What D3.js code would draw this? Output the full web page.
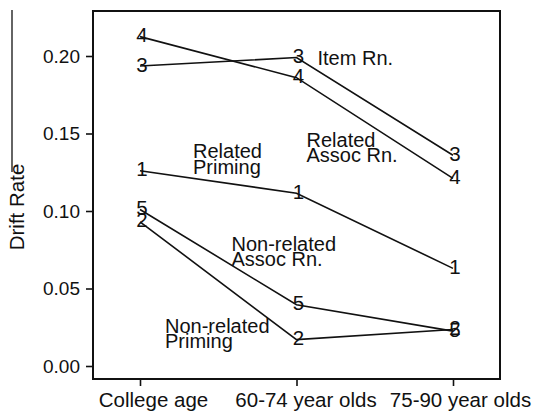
<!DOCTYPE html>
<html><head><meta charset="utf-8">
<script src="https://cdn.jsdelivr.net/npm/d3@7"></script>
<style>body{margin:0;background:#fff}svg{display:block}text{font-family:"Liberation Sans",Arial,sans-serif;fill:#111}</style>
</head><body><svg id="c" width="536" height="416"></svg>
<script>
const categories = ["College age", "60-74 year olds", "75-90 year olds"];
const seriesIds = ["1", "2", "3", "4", "5"];
const series1 = [0.126, 0.1115, 0.063];
const series2 = [0.093, 0.017, 0.0235];
const series3 = [0.1935, 0.1990, 0.136];
const series4 = [0.2125, 0.186, 0.121];
const series5 = [0.101, 0.0395, 0.0225];
const yTicks = [0, 0.05, 0.10, 0.15, 0.20];
const annotations = [
  {lines: ["Item Rn."], cat: 1, v: 0.194, dx: 21},
  {lines: ["Related", "Assoc Rn."], cat: 1, v: 0.1415, dx: 10},
  {lines: ["Related", "Priming"], cat: 0, v: 0.134, dx: 53},
  {lines: ["Non-related", "Assoc Rn."], cat: 1, v: 0.0745, dx: -65},
  {lines: ["Non-related", "Priming"], cat: 0, v: 0.0215, dx: 25}
];
const allSeries = [series1, series2, series3, series4, series5];

const svg = d3.select("#c");
const L = 93, R = 500, T = 11, B = 379;
const x = d3.scalePoint().domain(categories).range([140, 453]);
const y = d3.scaleLinear().domain([0, 0.2]).range([366, 56]);

// stray edge line
svg.append("line").attr("x1", 12).attr("x2", 12).attr("y1", 10).attr("y2", 172).attr("stroke", "#111").attr("stroke-width", 1.3);

svg.append("rect").attr("x", L).attr("y", T).attr("width", R - L).attr("height", B - T)
  .attr("fill", "none").attr("stroke", "#111").attr("stroke-width", 2);

const ya = svg.append("g").attr("transform", `translate(${L - 1},0)`)
  .call(d3.axisLeft(y).tickValues(yTicks).tickFormat(d3.format(".2f")).tickSize(6).tickPadding(6));
ya.select(".domain").remove();
ya.selectAll("line").attr("stroke", "#111").attr("stroke-width", 1.6);
ya.selectAll("text").attr("font-size", 19).attr("fill", "#111").attr("font-family", "Liberation Sans");

const labelShift = [13, 9, 7];
const xa = svg.append("g").attr("transform", `translate(0,${B + 1})`)
  .call(d3.axisBottom(x).tickSize(6).tickPadding(6));
xa.select(".domain").remove();
xa.selectAll("line").attr("stroke", "#111").attr("stroke-width", 1.6);
xa.selectAll("text").attr("font-size", 20.5).attr("fill", "#111").attr("font-family", "Liberation Sans")
  .attr("dx", (d, i) => labelShift[i]);

svg.append("text").attr("transform", "translate(24,207) rotate(-90)").attr("text-anchor", "middle")
  .attr("font-size", 20.5).text("Drift Rate");

const line = d3.line().x((d, i) => x(categories[i])).y(d => y(d));
allSeries.forEach((s, k) => {
  svg.append("path").attr("d", line(s)).attr("fill", "none").attr("stroke", "#111").attr("stroke-width", 1.6);
  s.forEach((v, i) => {
    svg.append("text").attr("x", x(categories[i]) + 2).attr("y", y(v) + 5.5).attr("text-anchor", "middle")
      .attr("font-size", 20.5).text(seriesIds[k]);
  });
});

annotations.forEach(a => {
  const t = svg.append("text").attr("font-size", 20);
  a.lines.forEach((ln, j) => {
    t.append("tspan").attr("x", x(categories[a.cat]) + a.dx).attr("y", y(a.v) + j * 15.5).text(ln);
  });
});
</script></body></html>
